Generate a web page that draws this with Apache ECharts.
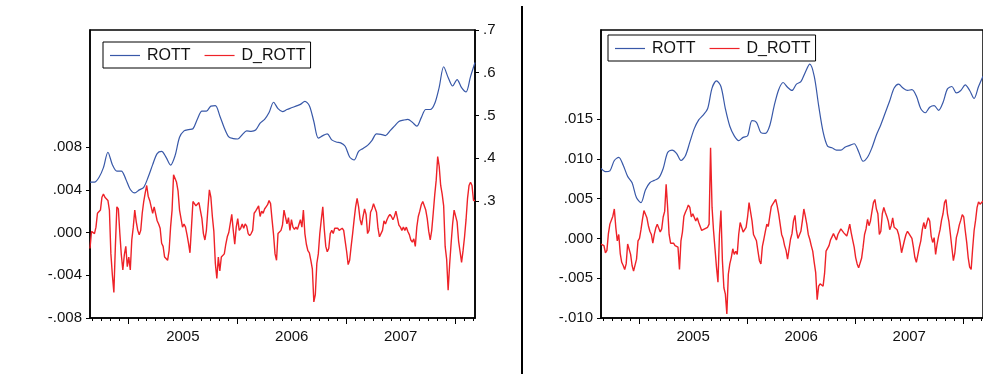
<!DOCTYPE html>
<html><head><meta charset="utf-8">
<script src="https://cdn.jsdelivr.net/npm/echarts@6/dist/echarts.min.js"></script>
<style>html,body{margin:0;padding:0;background:#fff}#c{width:983px;height:374px}</style>
</head><body><div id="c"></div>
<script>
// ---- data ----
const seriesNames = ['ROTT', 'D_ROTT'];
const yearLabels = [2005, 2006, 2007];
const leftAxisTicks = [-0.008, -0.004, 0, 0.004, 0.008];
const leftRightAxisTicks = [0.3, 0.4, 0.5, 0.6, 0.7];
const rightAxisTicks = [-0.010, -0.005, 0, 0.005, 0.010, 0.015];

// sampling: ROTT every 15 days, D_ROTT every 5 days, from 2004-08-25
const startDate = '2004-08-25';
const endDate = '2008-03-07';
const rottStepDays = 15;
const dRottStepDays = 5;

const rottLeft = [
0.344,0.344,0.355,0.378,0.414,0.385,0.370,0.370,0.351,0.327,
0.319,0.326,0.332,0.356,0.385,0.411,0.416,0.402,0.384,0.406,
0.449,0.464,0.467,0.469,0.492,0.510,0.510,0.522,0.523,0.499,
0.471,0.450,0.446,0.445,0.455,0.464,0.463,0.466,0.482,0.491,
0.507,0.531,0.516,0.509,0.514,0.518,0.522,0.526,0.533,0.523,
0.486,0.447,0.453,0.457,0.443,0.438,0.436,0.428,0.403,0.396,
0.416,0.423,0.430,0.442,0.457,0.456,0.453,0.464,0.475,0.486,
0.489,0.491,0.484,0.475,0.495,0.514,0.514,0.528,0.566,0.614,
0.589,0.569,0.584,0.565,0.555,0.591,0.624];

const dRottLeft = [
-0.0015,0.0001,0.0002,-0.0001,0.0005,0.0018,0.0019,0.0021,0.0033,0.0036,
0.0033,0.0033,0.0030,0.0021,-0.0020,-0.0040,-0.0056,-0.0013,0.0024,0.0022,
-0.0001,-0.0021,-0.0035,-0.0021,-0.0013,-0.0032,-0.0023,-0.0035,-0.0007,0.0005,
0.0021,0.0010,0.0002,-0.0002,0.0002,0.0018,0.0029,0.0037,0.0044,0.0034,
0.0030,0.0024,0.0018,0.0024,0.0024,0.0011,0.0008,0.0004,-0.0010,-0.0013,
-0.0023,-0.0024,-0.0026,-0.0017,0.0005,0.0021,0.0054,0.0053,0.0047,0.0039,
0.0021,0.0013,0.0005,0.0008,0.0005,-0.0002,-0.0010,-0.0019,0.0005,0.0029,
0.0030,0.0025,0.0026,0.0028,0.0027,0.0013,-0.0001,-0.0007,0.0002,0.0022,
0.0040,0.0033,0.0015,0.0001,-0.0029,-0.0043,-0.0023,-0.0036,-0.0023,-0.0023,
-0.0020,-0.0011,-0.0004,0.0000,-0.0001,0.0017,0.0002,-0.0011,0.0005,0.0013,
0.0002,0.0004,0.0008,0.0004,0.0008,0.0006,-0.0001,-0.0003,-0.0001,0.0002,
0.0018,0.0020,0.0021,0.0025,0.0015,0.0020,0.0018,0.0022,0.0024,0.0026,
0.0030,0.0027,0.0012,-0.0002,-0.0020,-0.0026,-0.0001,-0.0002,0.0002,0.0007,
0.0021,0.0021,0.0008,0.0014,0.0002,0.0012,0.0005,0.0003,0.0005,0.0003,
0.0002,0.0012,0.0005,0.0021,-0.0001,-0.0011,-0.0017,-0.0019,-0.0026,-0.0034,
-0.0065,-0.0058,-0.0029,-0.0020,-0.0001,0.0012,0.0024,0.0003,-0.0013,-0.0018,
-0.0015,-0.0001,0.0002,-0.0001,0.0004,0.0003,0.0004,0.0002,0.0001,0.0004,
0.0002,-0.0008,-0.0018,-0.0030,-0.0026,-0.0013,-0.0001,0.0012,0.0024,0.0032,
0.0024,0.0012,0.0007,0.0015,0.0022,0.0017,-0.0001,0.0002,0.0019,0.0022,
0.0027,0.0027,0.0019,0.0004,-0.0004,-0.0004,0.0002,0.0011,0.0008,0.0012,
0.0015,0.0017,0.0015,0.0012,0.0015,0.0020,0.0019,0.0007,0.0005,0.0002,
0.0005,0.0002,0.0005,0.0001,-0.0002,-0.0007,-0.0009,-0.0006,-0.0013,0.0005,
0.0015,0.0020,0.0026,0.0029,0.0029,0.0021,0.0013,0.0001,-0.0007,0.0002,
0.0018,0.0035,0.0049,0.0071,0.0062,0.0044,0.0036,0.0025,-0.0013,-0.0025,
-0.0054,-0.0030,-0.0010,0.0008,0.0021,0.0020,0.0010,-0.0008,-0.0018,-0.0028,
-0.0017,-0.0004,0.0012,0.0032,0.0044,0.0047,0.0044,0.0030,0.0030];

const rottRight = [
0.0088,0.0084,0.0085,0.0098,0.0102,0.0092,0.0078,0.0070,0.0051,0.0045,
0.0061,0.0070,0.0073,0.0076,0.0088,0.0108,0.0111,0.0107,0.0098,0.0104,
0.0121,0.0138,0.0149,0.0155,0.0163,0.0189,0.0198,0.0191,0.0163,0.0141,
0.0129,0.0123,0.0127,0.0129,0.0148,0.0146,0.0133,0.0132,0.0142,0.0167,
0.0187,0.0196,0.0190,0.0186,0.0194,0.0197,0.0209,0.0219,0.0204,0.0167,
0.0134,0.0116,0.0114,0.0111,0.0111,0.0115,0.0117,0.0119,0.0109,0.0097,
0.0102,0.0114,0.0130,0.0143,0.0158,0.0173,0.0189,0.0194,0.0189,0.0186,
0.0187,0.0179,0.0163,0.0158,0.0165,0.0167,0.0161,0.0171,0.0188,0.0191,
0.0183,0.0186,0.0193,0.0186,0.0176,0.0191,0.0204];

const dRottRight = [
-0.0007,-0.0005,-0.0009,-0.0018,-0.0015,0.0006,0.0018,0.0020,0.0028,0.0037,
0.0014,-0.0003,0.0005,-0.0019,-0.0030,-0.0034,-0.0039,-0.0032,-0.0007,-0.0008,
-0.0020,-0.0034,-0.0041,-0.0040,-0.0026,-0.0003,0.0000,0.0011,0.0024,0.0035,
0.0035,0.0026,0.0016,0.0009,0.0005,-0.0006,0.0005,0.0013,0.0018,0.0016,
0.0008,0.0012,0.0027,0.0034,0.0068,0.0039,0.0005,-0.0006,-0.0006,-0.0006,
-0.0009,-0.0009,-0.0011,-0.0039,-0.0003,0.0008,0.0028,0.0033,0.0037,0.0042,
0.0039,0.0027,0.0031,0.0031,0.0022,0.0026,0.0020,0.0015,0.0010,0.0008,
0.0012,0.0010,0.0014,0.0018,0.0114,0.0039,0.0010,-0.0013,-0.0036,-0.0055,
0.0005,0.0035,-0.0028,-0.0062,-0.0070,-0.0095,-0.0045,-0.0032,-0.0024,-0.0013,
-0.0020,-0.0016,-0.0020,0.0005,0.0020,0.0014,0.0008,0.0007,0.0014,0.0027,
0.0045,0.0047,0.0022,0.0005,0.0005,-0.0003,-0.0016,-0.0028,-0.0032,-0.0010,
-0.0001,0.0009,0.0018,0.0015,0.0028,0.0040,0.0043,0.0044,0.0049,0.0041,
0.0031,0.0031,0.0005,0.0000,-0.0009,-0.0015,-0.0026,-0.0024,-0.0001,0.0006,
0.0022,0.0029,0.0010,0.0000,0.0001,0.0009,0.0022,0.0037,0.0028,0.0018,
0.0005,-0.0001,-0.0009,-0.0016,-0.0030,-0.0043,-0.0077,-0.0060,-0.0057,-0.0056,
-0.0060,-0.0044,-0.0016,-0.0016,-0.0009,-0.0002,0.0002,0.0006,0.0008,-0.0002,
0.0005,0.0003,0.0012,0.0010,0.0007,0.0007,0.0003,0.0010,0.0018,0.0007,
-0.0002,-0.0011,-0.0024,-0.0032,-0.0037,-0.0038,-0.0025,-0.0011,0.0005,0.0012,
0.0024,0.0016,0.0022,0.0034,0.0045,0.0049,0.0037,0.0031,0.0005,0.0009,
0.0031,0.0039,0.0033,0.0028,0.0022,0.0011,0.0016,0.0026,0.0014,0.0014,
0.0011,0.0005,-0.0005,-0.0018,-0.0020,-0.0002,0.0005,0.0009,0.0006,0.0005,
0.0000,-0.0011,-0.0024,-0.0030,-0.0032,-0.0011,-0.0003,0.0011,0.0020,0.0012,
0.0014,0.0026,0.0022,0.0003,-0.0005,0.0001,-0.0020,-0.0007,0.0003,0.0011,
0.0023,0.0031,0.0045,0.0049,0.0031,0.0021,0.0005,-0.0012,-0.0028,-0.0018,
0.0001,0.0008,0.0017,0.0023,0.0030,0.0027,0.0010,-0.0005,-0.0024,-0.0036,
-0.0039,-0.0013,0.0010,0.0023,0.0039,0.0046,0.0043,0.0043,0.0047];

// ---- build ----
const DAY = 86400000;
const t0 = Date.parse(startDate + 'T00:00:00Z');
const t1 = Date.parse(endDate + 'T00:00:00Z');
const withDates = (arr, step) => arr.map((v, i) => [t0 + i * step * DAY, v]);

const monthTicks = [];
for (let y = 2004; y <= 2008; y++) for (let m = 0; m < 12; m++) {
  const t = Date.UTC(y, m, 1);
  if (t >= t0 && t <= t1) monthTicks.push(t);
}
const yearTicks = [2005, 2006, 2007, 2008].map(y => Date.UTC(y, 0, 1));
const yearLabelPos = yearLabels.map(y => Date.UTC(y, 6, 2));

const FONT = "'Liberation Sans', Arial, sans-serif";
const BLUE = '#3858a8', RED = '#ee2228';
const fmt = d => v => {
  let s = v.toFixed(d);
  if (Math.abs(v) < 1e-12) s = (0).toFixed(d);
  return s.replace(/^(-?)0\./, '$1.');
};

function xAxes(gi) {
  return [{
    type: 'value', gridIndex: gi, min: t0, max: t1, position: 'bottom',
    splitLine: { show: false },
    axisLine: { show: true, onZero: false, lineStyle: { color: '#000', width: 1.5 } },
    axisTick: { show: true, customValues: monthTicks, length: 3, lineStyle: { color: '#000', width: 1 } },
    axisLabel: { show: true, customValues: yearLabelPos, margin: 11, color: '#111', fontSize: 15, fontFamily: FONT,
      formatter: v => String(new Date(v).getUTCFullYear()) }
  }, {
    type: 'value', gridIndex: gi, min: t0, max: t1, position: 'bottom',
    splitLine: { show: false },
    axisLine: { show: false, onZero: false },
    axisTick: { show: true, customValues: yearTicks, length: 6, lineStyle: { color: '#000', width: 1 } },
    axisLabel: { show: false }
  }];
}
function yAxis(gi, min, max, ticks, pos, dec) {
  return {
    type: 'value', gridIndex: gi, min, max, position: pos,
    splitLine: { show: false },
    axisLine: { show: true, onZero: false, lineStyle: { color: '#000', width: 1.5 } },
    axisTick: { show: true, customValues: ticks, length: 4, lineStyle: { color: '#000', width: 1 } },
    axisLabel: { show: true, customValues: ticks, margin: 8, color: '#111', fontSize: 15, fontFamily: FONT, formatter: fmt(dec) }
  };
}
function legend(left, top) {
  return {
    data: seriesNames, left, top, orient: 'horizontal', icon: 'rect',
    borderColor: '#000', borderWidth: 1, padding: [5, 5, 4, 7],
    itemWidth: 30, itemHeight: 1.2, itemGap: 14, selectedMode: false,
    textStyle: { fontSize: 16, fontFamily: FONT, color: '#111', lineHeight: 17, padding: [0, 0, 0, 2] }
  };
}
function line(name, data, color, xi, yi, width, smooth) {
  return { type: 'line', name, data, xAxisIndex: xi, yAxisIndex: yi, symbol: 'none', smooth: smooth,
    lineStyle: { color, width }, itemStyle: { color }, animation: false };
}

const chart = echarts.init(document.getElementById('c'), null, { renderer: 'canvas' });
chart.setOption({
  backgroundColor: '#fff',
  animation: false,
  grid: [
    { left: 90, top: 30, width: 385, height: 288, show: true, borderColor: '#000', borderWidth: 1.5, backgroundColor: 'transparent' },
    { left: 601, top: 30, width: 385, height: 288, show: true, borderColor: '#000', borderWidth: 1.5, backgroundColor: 'transparent' }
  ],
  xAxis: [...xAxes(0), ...xAxes(1)],
  yAxis: [
    yAxis(0, -0.008, 0.01895, leftAxisTicks, 'left', 3),
    yAxis(0, 0.0263, 0.7, leftRightAxisTicks, 'right', 1),
    yAxis(1, -0.010, 0.0262, rightAxisTicks, 'left', 3)
  ],
  legend: [legend(103, 42), legend(608, 35)],
  series: [
    line('ROTT', withDates(rottLeft, rottStepDays), BLUE, 0, 1, 1.2, 0.3),
    line('D_ROTT', withDates(dRottLeft, dRottStepDays), RED, 0, 0, 1.4, false),
    line('ROTT', withDates(rottRight, rottStepDays), BLUE, 2, 2, 1.2, 0.3),
    line('D_ROTT', withDates(dRottRight, dRottStepDays), RED, 2, 2, 1.4, false)
  ],
  graphic: [{ type: 'line', shape: { x1: 522, y1: 6, x2: 522, y2: 374 }, style: { stroke: '#000', lineWidth: 2 } }]
});
</script></body></html>
